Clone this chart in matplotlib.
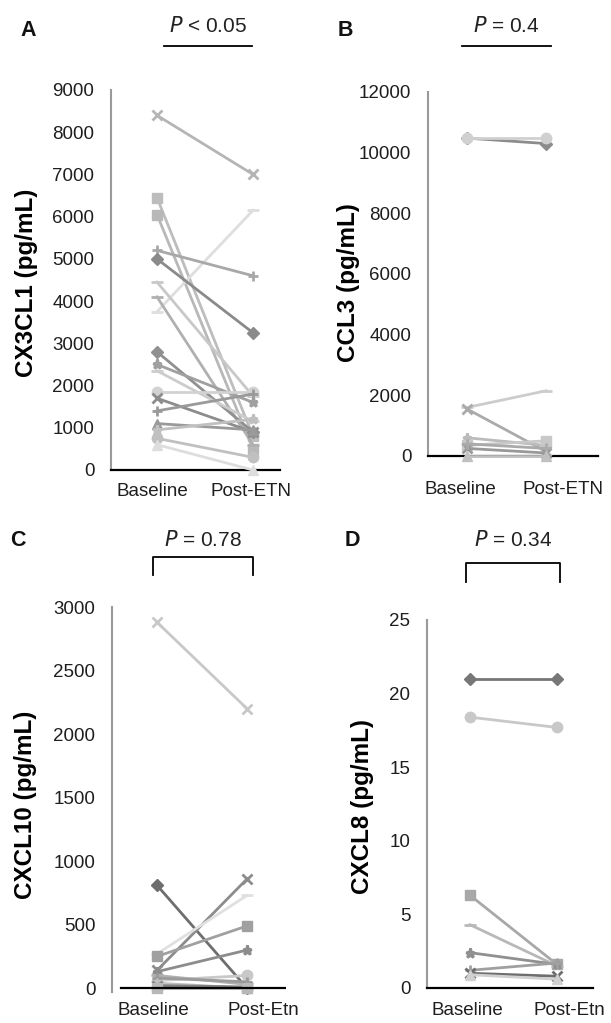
import matplotlib
matplotlib.use("Agg")
import matplotlib.pyplot as plt
from matplotlib.lines import Line2D

plt.rcParams['font.family'] = ['Liberation Sans', 'DejaVu Sans']

groups = ["Baseline", "Post-ETN"]
groups_cd = ["Baseline", "Post-Etn"]

# Panel A: CX3CL1 (pg/mL)
a_base = [8400, 6450, 6050, 3750, 5200, 5000, 4450, 4100, 2800, 2500, 2350, 1850, 1700, 1400, 1100, 950, 750, 600]
a_post = [7000, 800, 500, 6150, 4600, 3250, 1750, 600, 900, 1600, 1150, 1850, 900, 1800, 950, 1200, 300, 0]
a_mark = ['x', 's', 's', '_', '+', 'D', '_', '_', 'D', '*', '_', 'o', 'x', '+', '^', '*', 'o', '^']
a_col = ['#b5b5b5', '#bdbdbd', '#b8b8b8', '#dedede', '#a8a8a8', '#8a8a8a', '#c8c8c8', '#b0b0b0',
         '#909090', '#a0a0a0', '#cccccc', '#d2d2d2', '#8c8c8c', '#9a9a9a', '#9a9a9a', '#c0c0c0', '#c0c0c0', '#dddddd']

# Panel B: CCL3 (pg/mL)
b_base = [10480, 10500, 1600, 1550, 600, 350, 250, 400, 0]
b_post = [10300, 10500, 2150, 150, 350, 500, 100, 250, 0]
b_mark = ['D', 'o', '_', 'x', '*', 's', 'x', '+', '^']
b_col = ['#8c8c8c', '#d0d0d0', '#cccccc', '#aaaaaa', '#bbbbbb', '#c8c8c8', '#999999', '#aaaaaa', '#c0c0c0']

# Panel C: CXCL10 (pg/mL)
c_base = [2880, 810, 140, 270, 250, 130, 60, 100, 80, 40, 20, 0]
c_post = [2200, 0, 860, 730, 490, 300, 100, 30, 50, 0, 10, 0]
c_mark = ['x', 'D', 'x', '_', 's', '*', 'o', '_', '+', '^', 'x', 's']
c_col = ['#c8c8c8', '#6e6e6e', '#8c8c8c', '#e0e0e0', '#a0a0a0', '#8c8c8c', '#c8c8c8', '#b0b0b0',
         '#9a9a9a', '#c0c0c0', '#808080', '#b8b8b8']

# Panel D: CXCL8 (pg/mL)
d_base = [21, 18.4, 6.3, 4.3, 2.4, 1.2, 1.0, 0.9]
d_post = [21, 17.7, 1.6, 1.5, 1.6, 1.7, 0.8, 0.6]
d_mark = ['D', 'o', 's', '_', '*', '+', 'x', '^']
d_col = ['#777777', '#c8c8c8', '#a8a8a8', '#b8b8b8', '#909090', '#a0a0a0', '#6e6e6e', '#d0d0d0']

W, H = 611, 1023
fig = plt.figure(figsize=(W / 100, H / 100), dpi=100)


def make_ax(left, right, top, bottom):
    return fig.add_axes([left / W, 1 - bottom / H, (right - left) / W, (bottom - top) / H])


def draw(ax, base, post, marks, cols):
    for b, p, m, c in zip(base, post, marks, cols):
        ms = 7.5 if m in ('s', 'o') else 6.5
        if m == '_':
            ms = 9
        mew = 2 if m in ('x', '+', '_', '*') else 1
        ax.plot([0, 1], [b, p], color=c, lw=2, marker=m, ms=ms, mec=c, mfc=c, mew=mew,
                clip_on=False, zorder=3)


def style(ax, yticks, labels, tickpos, ylabel, xlim, ylim, lx, ly, xpad):
    ax.set_xlim(*xlim)
    ax.set_ylim(*ylim)
    ax.set_yticks(yticks)
    ax.set_xticks(tickpos)
    ax.set_xticklabels(labels)
    ax.tick_params(axis='y', length=0, labelsize=13.5, pad=12, labelcolor='#1e1e1e')
    ax.tick_params(axis='x', length=0, labelsize=13.5, pad=xpad, labelcolor='#1e1e1e')
    for s in ('top', 'right'):
        ax.spines[s].set_visible(False)
    ax.spines['left'].set_color('#9a9a9a')
    ax.spines['left'].set_linewidth(1.5)
    ax.spines['bottom'].set_color('black')
    ax.spines['bottom'].set_linewidth(1.6)
    ax.set_ylabel(ylabel, fontsize=17.5, fontweight='bold')
    ax.yaxis.label.set_va('center')
    ax.yaxis.set_label_coords(lx / W, 1 - ly / H, transform=fig.transFigure)
    ax.patch.set_alpha(0)


# Panel A
axA = make_ax(111, 280, 90, 470)
draw(axA, a_base, a_post, a_mark, a_col)
style(axA, range(0, 9001, 1000), groups, [-0.05, 0.98], 'CX3CL1 (pg/mL)',
      (-0.479, 1.281), (0, 9000), 27, 283, 9)

# Panel B
axB = make_ax(428, 598, 92, 456)
draw(axB, b_base, b_post, b_mark, b_col)
style(axB, range(0, 12001, 2000), groups, [-0.09, 1.215], 'CCL3 (pg/mL)',
      (-0.494, 1.658), (0, 12000), 348, 283, 18)

# Panel C
axC = make_ax(112, 286, 607, 992)
draw(axC, c_base, c_post, c_mark, c_col)
style(axC, range(0, 3001, 500), groups_cd, [-0.04, 1.18], 'CXCL10 (pg/mL)',
      (-0.5, 1.433), (-30, 3000), 26, 805, 7)
axC.spines['bottom'].set_visible(False)
axC.axhline(0, xmin=0.052, xmax=1, color='black', lw=1.6, zorder=4)

# Panel D
axD = make_ax(427, 593, 620, 988)
draw(axD, d_base, d_post, d_mark, d_col)
style(axD, range(0, 26, 5), groups_cd, [-0.03, 1.14], 'CXCL8 (pg/mL)',
      (-0.494, 1.414), (0, 25), 362, 806, 10)


def ftext(x, y, s, **kw):
    fig.text(x / W, 1 - y / H, s, **kw)

for x, y, s in [(28, 30, 'A'), (345, 30, 'B'), (18, 540, 'C'), (352, 540, 'D')]:
    ftext(x, y, s, fontsize=15.5, fontweight='bold', ha='center', va='center', color='#111111')

for x, y, s in [(208, 26, r'$\it{P}$ < 0.05'), (506, 26, r'$\it{P}$ = 0.4'),
                (203, 540, r'$\it{P}$ = 0.78'), (513, 540, r'$\it{P}$ = 0.34')]:
    ftext(x, y, s, fontsize=15, ha='center', va='center', color='#222222')


def fline(xs, ys):
    fig.add_artist(Line2D([x / W for x in xs], [1 - y / H for y in ys], color='black', lw=1.3,
                          transform=fig.transFigure))

fline([164, 252], [46, 46])
fline([462, 551], [46, 46])
fline([153, 153, 253, 253], [575, 557, 557, 575])
fline([466, 466, 560, 560], [582, 563, 563, 582])

fig.savefig('out.png', dpi=100)
